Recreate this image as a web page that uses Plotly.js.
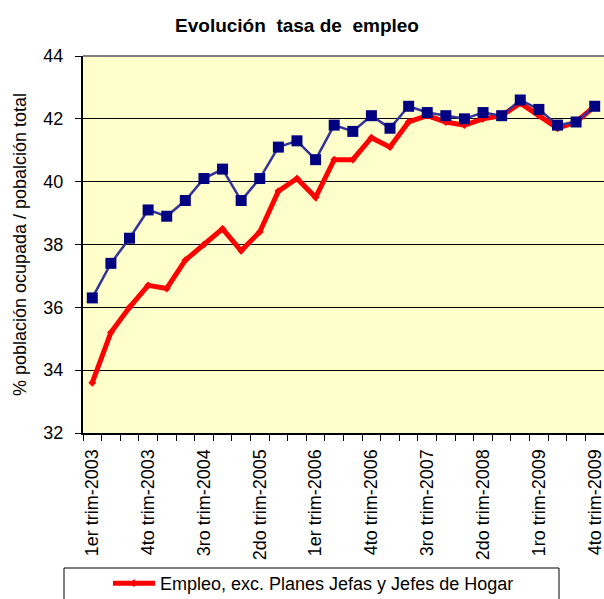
<!DOCTYPE html>
<html>
<head>
<meta charset="utf-8">
<script src="https://cdn.plot.ly/plotly-3.0.1.min.js"></script>
<style>
html, body { margin: 0; padding: 0; background: #ffffff; overflow: hidden; }
#wrap { width: 604px; height: 599px; overflow: hidden; position: relative; }
#chart { width: 650px; height: 650px; }
</style>
</head>
<body>
<div id="wrap"><div id="chart"></div></div>
<script>
// Quarters (categories)
const quarters = [
  "1er trim-2003", "2do trim-2003", "3ro trim-2003", "4to trim-2003",
  "1er trim-2004", "2do trim-2004", "3ro trim-2004", "4to trim-2004",
  "1er trim-2005", "2do trim-2005", "3ro trim-2005", "4to trim-2005",
  "1er trim-2006", "2do trim-2006", "3ro trim-2006", "4to trim-2006",
  "1er trim-2007", "2do trim-2007", "3ro trim-2007", "4to trim-2007",
  "1er trim-2008", "2do trim-2008", "3ro trim-2008", "4to trim-2008",
  "1ro trim-2009", "2do trim-2009", "3ro trim-2009", "4to trim-2009"
];
// Labels shown on the x axis
const tickLabels = [
  "1er trim-2003", "4to trim-2003", "3ro trim-2004", "2do trim-2005",
  "1er trim-2006", "4to trim-2006", "3ro trim-2007", "2do trim-2008",
  "1ro trim-2009", "4to trim-2009"
];
// Empleo, exc. Planes Jefas y Jefes de Hogar (red)
const empleoExcPlanes = [
  33.6, 35.2, 36.0, 36.7, 36.6, 37.5, 38.0, 38.5, 37.8, 38.4,
  39.7, 40.1, 39.5, 40.7, 40.7, 41.4, 41.1, 41.9, 42.1, 41.9,
  41.8, 42.0, 42.1, 42.5, 42.1, 41.7, 41.9, 42.4
];
// Empleo total (navy)
const empleoTotal = [
  36.3, 37.4, 38.2, 39.1, 38.9, 39.4, 40.1, 40.4, 39.4, 40.1,
  41.1, 41.3, 40.7, 41.8, 41.6, 42.1, 41.7, 42.4, 42.2, 42.1,
  42.0, 42.2, 42.1, 42.6, 42.3, 41.8, 41.9, 42.4
];
const yTicks = [32, 34, 36, 38, 40, 42, 44];

const FONT = "Arial, 'Liberation Sans', sans-serif";

const traces = [
  {
    x: quarters, y: empleoExcPlanes, type: "scatter", mode: "lines+markers",
    name: "Empleo, exc. Planes Jefas y Jefes de Hogar",
    line: { color: "#ff0000", width: 5 },
    marker: { color: "#ff0000", symbol: "diamond", size: 6 },
    cliponaxis: false
  },
  {
    x: quarters, y: empleoTotal, type: "scatter", mode: "lines+markers",
    name: "Empleo total",
    showlegend: false,
    line: { color: "#333399", width: 2.5 },
    marker: { color: "#000080", symbol: "square", size: 11 },
    cliponaxis: false
  }
];

const ticktext = quarters.map(q => tickLabels.includes(q) ? q : "");

const layout = {
  width: 650, height: 650,
  margin: { l: 83, r: 46, t: 56, b: 217 },
  paper_bgcolor: "#ffffff",
  plot_bgcolor: "#ffffcc",
  font: { family: FONT, color: "#000000" },
  title: {
    text: "<b>Evolución  tasa de  empleo</b>",
    font: { family: FONT, size: 19, color: "#000000" },
    xref: "container", x: 297 / 650, xanchor: "center",
    yref: "container", y: 1 - 25 / 650, yanchor: "middle"
  },
  xaxis: {
    type: "category",
    range: [-0.5, quarters.length - 0.5],
    autorange: false,
    tickmode: "array", tickvals: quarters, ticktext: ticktext,
    tickson: "boundaries",
    ticks: "outside", ticklen: 6, tickcolor: "#000000", tickwidth: 1,
    tickangle: -90,
    tickfont: { family: FONT, size: 18, color: "#000000" },
    ticklabelstandoff: 7,
    showline: true, linecolor: "#000000", linewidth: 2,
    showgrid: false, zeroline: false,
    fixedrange: true
  },
  yaxis: {
    range: [32, 44],
    autorange: false,
    tickmode: "array", tickvals: yTicks,
    ticks: "outside", ticklen: 6, tickcolor: "#000000", tickwidth: 1,
    tickfont: { family: FONT, size: 18, color: "#000000" },
    ticklabelstandoff: 8,
    showline: true, linecolor: "#000000", linewidth: 2,
    showgrid: true, gridcolor: "#000000", gridwidth: 1,
    zeroline: false,
    title: {
      text: "% población ocupada / pobalción total",
      font: { family: FONT, size: 18, color: "#000000" },
      standoff: 12
    },
    fixedrange: true
  },
  showlegend: true,
  legend: {
    orientation: "v",
    x: 0.048, xanchor: "left",
    y: -0.35, yanchor: "top",
    bgcolor: "rgba(0,0,0,0)", borderwidth: 0,
    font: { family: FONT, size: 18, color: "#000000" },
    itemwidth: 42
  },
  shapes: [
    { type: "line", xref: "paper", yref: "paper", x0: 0, x1: 1, y0: 1, y1: 1,
      line: { color: "#808080", width: 2 } },
    { type: "rect", xref: "paper", yref: "paper",
      x0: (64 - 83) / 521, x1: (559 - 83) / 521,
      y0: (433 - 568) / 377, y1: (433 - 660) / 377,
      line: { color: "#000000", width: 1 }, fillcolor: "rgba(0,0,0,0)" }
  ]
};

Plotly.newPlot("chart", traces, layout, { displayModeBar: false, staticPlot: true });
</script>
</body>
</html>
